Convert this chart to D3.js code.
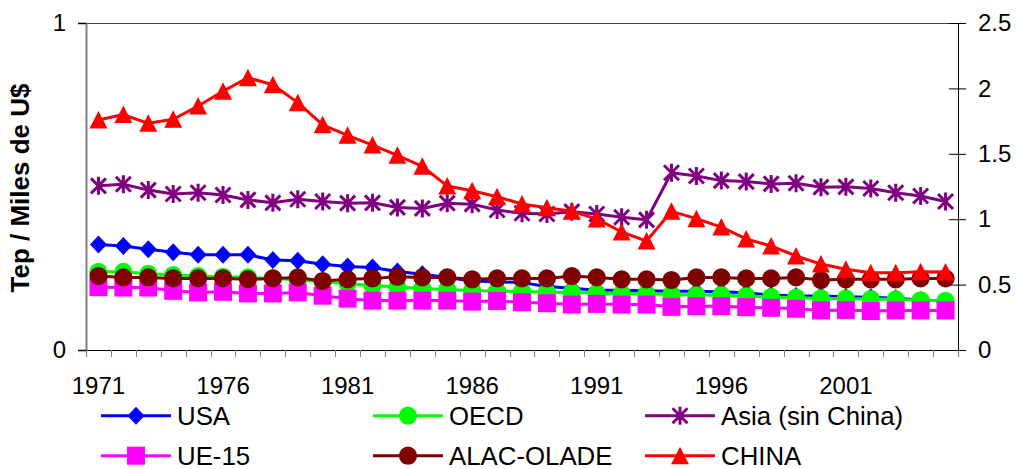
<!DOCTYPE html>
<html>
<head>
<meta charset="utf-8">
<script src="https://cdn.jsdelivr.net/npm/d3@7"></script>
<style>
  html, body { margin: 0; padding: 0; background: #fff; }
  svg { display: block; font-family: "Liberation Sans", Arial, sans-serif; }
</style>
</head>
<body>
<svg id="chart" width="1018" height="469"></svg>
<script>
// ---------------- DATA ----------------
const years = [1971,1972,1973,1974,1975,1976,1977,1978,1979,1980,
               1981,1982,1983,1984,1985,1986,1987,1988,1989,1990,
               1991,1992,1993,1994,1995,1996,1997,1998,1999,2000,
               2001,2002,2003,2004,2005];
const xTickLabels = ["1971","1976","1981","1986","1991","1996","2001"];
const leftTicks = [0, 1];
const rightTicks = [0, 0.5, 1, 1.5, 2, 2.5];

const usa = [0.323,0.318,0.308,0.299,0.291,0.291,0.291,0.275,0.273,0.262,
             0.255,0.252,0.240,0.232,0.222,0.211,0.209,0.206,0.194,0.189,
             0.183,0.183,0.181,0.180,0.180,0.178,0.175,0.168,0.165,0.165,
             0.163,0.161,0.158,0.153,0.150];
const oecd = [0.239,0.239,0.233,0.229,0.226,0.224,0.222,0.219,0.215,0.209,
              0.203,0.197,0.193,0.188,0.185,0.182,0.180,0.179,0.177,0.176,
              0.174,0.173,0.172,0.170,0.168,0.168,0.165,0.162,0.160,0.158,
              0.157,0.156,0.155,0.152,0.150];
const asia = [0.502,0.507,0.489,0.477,0.481,0.474,0.459,0.450,0.461,0.454,
              0.449,0.450,0.436,0.433,0.449,0.446,0.428,0.418,0.416,0.423,
              0.416,0.406,0.398,0.542,0.532,0.518,0.515,0.508,0.510,0.498,
              0.499,0.494,0.481,0.471,0.454];
const ue15 = [0.192,0.191,0.191,0.181,0.176,0.178,0.173,0.173,0.176,0.166,
              0.157,0.151,0.151,0.151,0.151,0.148,0.150,0.146,0.143,0.139,
              0.141,0.139,0.139,0.132,0.134,0.134,0.131,0.129,0.126,0.121,
              0.122,0.119,0.121,0.121,0.121];
const alac = [0.226,0.222,0.222,0.219,0.219,0.219,0.216,0.219,0.222,0.211,
              0.216,0.219,0.224,0.222,0.222,0.216,0.219,0.219,0.219,0.226,
              0.222,0.216,0.216,0.214,0.222,0.222,0.219,0.219,0.222,0.214,
              0.216,0.216,0.216,0.219,0.219];
// CHINA on secondary (right) axis
const china = [1.758,1.800,1.733,1.764,1.865,1.978,2.082,2.028,1.891,1.722,
               1.641,1.567,1.488,1.404,1.254,1.218,1.172,1.116,1.088,1.060,
               1.002,0.902,0.833,1.060,1.004,0.940,0.849,0.795,0.719,0.657,
               0.617,0.591,0.591,0.599,0.596];

const seriesNames = ["USA","OECD","Asia (sin China)","UE-15","ALAC-OLADE","CHINA"];
const seriesData = [usa, oecd, asia, ue15, alac, china];
const seriesAxis = ["left","left","left","left","left","right"];
const seriesColors = ["#0000FF","#00FF00","#800080","#FF00FF","#800000","#FF0000"];
const seriesMarkers = ["diamond","circle","asterisk","square","circle","triangle"];

// ---------------- LAYOUT ----------------
const svg = d3.select("#chart");
const plot = { left: 86, right: 958, top: 23, bottom: 350 };

const x = d3.scaleBand().domain(years).range([plot.left, plot.right]).padding(0);
const yL = d3.scaleLinear().domain([0, 1]).range([plot.bottom, plot.top]);
const yR = d3.scaleLinear().domain([0, 2.5]).range([plot.bottom, plot.top]);

function markerPath(type) {
  switch (type) {
    case "diamond": return "M0,-9L8.5,0L0,9L-8.5,0Z";
    case "circle": return d3.symbol(d3.symbolCircle, 260)();
    case "square": return "M-9,-9H9V9H-9Z";
    case "triangle": return "M0,-9L9,8.5L-9,8.5Z";
    case "asterisk": return "M0,-9V9M-7.5,-7.5L7.5,7.5M-7.5,7.5L7.5,-7.5";
  }
}
function styleMarker(sel, type, color) {
  if (type === "asterisk") {
    sel.attr("fill", "none").attr("stroke", color).attr("stroke-width", 3);
  } else {
    sel.attr("fill", color).attr("stroke", "none");
  }
}

// top border of plot area
svg.append("line")
  .attr("x1", plot.left).attr("x2", plot.right)
  .attr("y1", plot.top + 0.5).attr("y2", plot.top + 0.5)
  .attr("stroke", "#404040").attr("stroke-width", 1);

// X axis (labels at band centers)
const xAxis = d3.axisBottom(x)
  .tickValues(years.filter(y => xTickLabels.includes(String(y))))
  .tickSize(0).tickPadding(27)
  .tickFormat(d => String(d));
const gx = svg.append("g").attr("transform", `translate(0,${plot.bottom})`).call(xAxis);
gx.select(".domain").attr("stroke", "#000").attr("stroke-width", 1);
gx.selectAll("text").attr("font-size", 24).attr("fill", "#000")
  .attr("font-family", "'Liberation Sans', Arial, sans-serif");

// X boundary tick marks
const boundaries = years.map(y => x(y)).concat([x.range()[1]]);
svg.append("g").selectAll("line").data(boundaries).join("line")
  .attr("x1", d => Math.round(d) + 0.5).attr("x2", d => Math.round(d) + 0.5)
  .attr("y1", plot.bottom).attr("y2", plot.bottom + 7)
  .attr("stroke", "#808080").attr("stroke-width", 1);

// Left axis
const yAxisL = d3.axisLeft(yL).tickValues(leftTicks).tickSize(8).tickPadding(12)
  .tickFormat(d3.format("d"));
const gl = svg.append("g").attr("transform", `translate(${plot.left},0)`).call(yAxisL);
gl.select(".domain").attr("stroke", "#808080").attr("stroke-width", 2);
gl.selectAll(".tick line").attr("stroke", "#000");
gl.selectAll("text").attr("font-size", 24).attr("fill", "#000")
  .attr("font-family", "'Liberation Sans', Arial, sans-serif");

// Right axis
const yAxisR = d3.axisRight(yR).tickValues(rightTicks).tickSize(8).tickPadding(12)
  .tickFormat(d => String(d));
const gr = svg.append("g").attr("transform", `translate(${plot.right},0)`).call(yAxisR);
gr.select(".domain").attr("stroke", "#000").attr("stroke-width", 1);
gr.selectAll(".tick line").attr("stroke", "#000").attr("x1", -9);
gr.selectAll("text").attr("font-size", 24).attr("fill", "#000")
  .attr("font-family", "'Liberation Sans', Arial, sans-serif");

// Y title
svg.append("text")
  .attr("transform", `translate(29,188) rotate(-90)`)
  .attr("text-anchor", "middle")
  .attr("font-size", 26).attr("font-weight", "bold").attr("fill", "#000")
  .text("Tep / Miles de U$");

// Series
const cx = y => x(y) + x.bandwidth() / 2;
seriesData.forEach((vals, i) => {
  const ys = seriesAxis[i] === "right" ? yR : yL;
  const g = svg.append("g");
  const line = d3.line().x((d, j) => cx(years[j])).y(d => ys(d));
  g.append("path").datum(vals).attr("d", line)
    .attr("fill", "none").attr("stroke", seriesColors[i]).attr("stroke-width", 3)
    .attr("stroke-linejoin", "round");
  const m = g.selectAll("path.m").data(vals).join("path").attr("class", "m")
    .attr("transform", (d, j) => `translate(${cx(years[j])},${ys(d)})`)
    .attr("d", markerPath(seriesMarkers[i]));
  styleMarker(m, seriesMarkers[i], seriesColors[i]);
});

// Legend
const legCols = [101, 373, 645];
const legRows = [415.7, 455.7];
seriesNames.forEach((name, i) => {
  const lx = legCols[i % 3], ly = legRows[Math.floor(i / 3)];
  const g = svg.append("g").attr("transform", `translate(${lx},${ly})`);
  g.append("line").attr("x1", 0).attr("x2", 70).attr("y1", 0).attr("y2", 0)
    .attr("stroke", seriesColors[i]).attr("stroke-width", 3);
  const m = g.append("path").attr("transform", "translate(35,0)")
    .attr("d", markerPath(seriesMarkers[i]));
  styleMarker(m, seriesMarkers[i], seriesColors[i]);
  g.append("text").attr("x", 76).attr("dy", "0.35em")
    .attr("font-size", 25.8).attr("fill", "#000").text(name);
});
</script>
</body>
</html>
